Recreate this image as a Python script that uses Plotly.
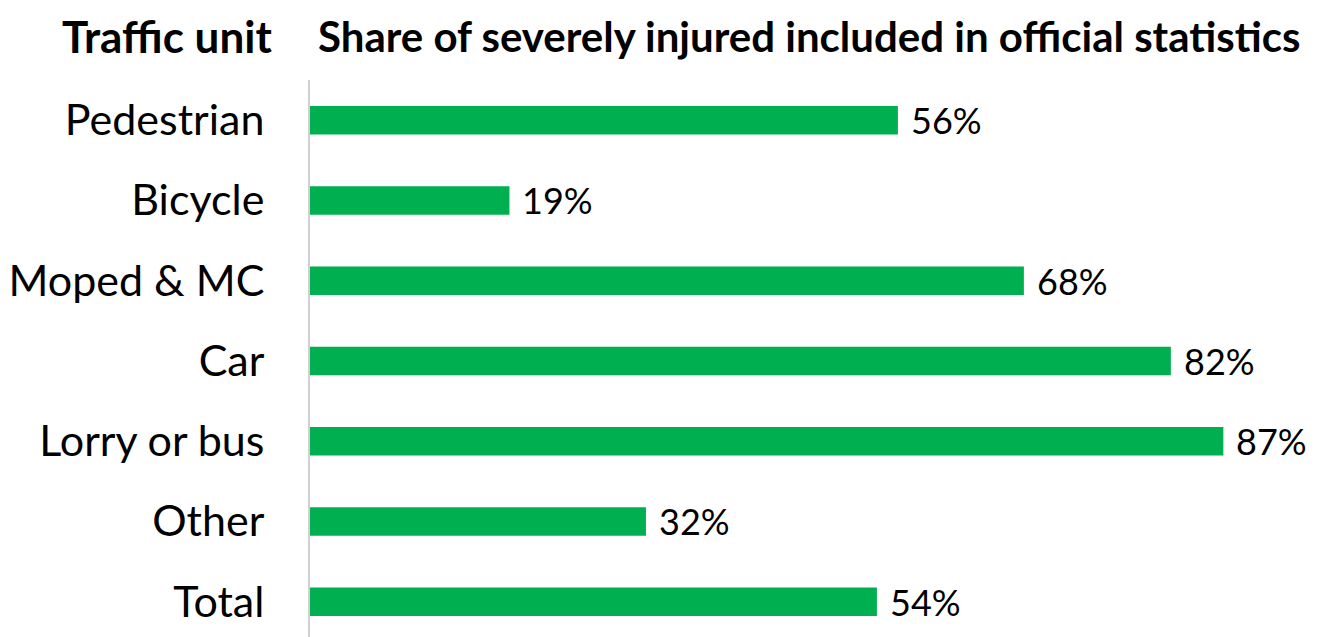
import plotly.graph_objects as go

# Traffic units and the share of severely injured that appear in official statistics (%)
units = ["Pedestrian", "Bicycle", "Moped & MC", "Car", "Lorry or bus", "Other", "Total"]
share_pct = [56, 19, 68, 82, 87, 32, 54]

header_left = "Traffic unit"
header_right = "Share of severely injured included in official statistics"

FONT = "Lato, 'Open Sans', sans-serif"
GREEN = "#00B050"

fig = go.Figure(
    go.Bar(
        x=share_pct,
        y=units,
        orientation="h",
        marker=dict(color=GREEN, line=dict(width=0)),
        hoverinfo="x+y",
    )
)

# value labels to the right of each bar
for u, v in zip(units, share_pct):
    fig.add_annotation(
        x=v, y=u, xref="x", yref="y",
        text=f"{v}%", showarrow=False,
        xanchor="left", yanchor="middle", xshift=11,
        font=dict(family=FONT, size=36, color="#000000"),
    )

# column headers
fig.add_annotation(
    x=0, y=1, xref="paper", yref="paper",
    text=f"<b>{header_left}</b>", showarrow=False,
    xanchor="right", yanchor="middle", xshift=-36, yshift=44,
    font=dict(family=FONT, size=44, color="#000000"),
)
fig.add_annotation(
    x=0, y=1, xref="paper", yref="paper",
    text=f"<b>{header_right}</b>", showarrow=False,
    xanchor="left", yanchor="middle", xshift=6, yshift=44,
    font=dict(family=FONT, size=42, color="#000000"),
)

fig.update_layout(
    width=1321,
    height=637,
    margin=dict(l=310, r=0, t=80, b=0),
    paper_bgcolor="white",
    plot_bgcolor="white",
    bargap=0.645,
    showlegend=False,
    font=dict(family=FONT, color="#000000"),
)
fig.update_xaxes(
    range=[0, 96.3], visible=False, showgrid=False, zeroline=False,
)
fig.update_yaxes(
    type="category",
    range=[6.44, -0.5],
    showgrid=False,
    zeroline=False,
    showline=True,
    linecolor="#D0D0D0",
    linewidth=2,
    ticks="",
    ticklabelstandoff=35,
    tickfont=dict(family=FONT, size=43, color="#000000"),
)

fig.write_html("out.html")
